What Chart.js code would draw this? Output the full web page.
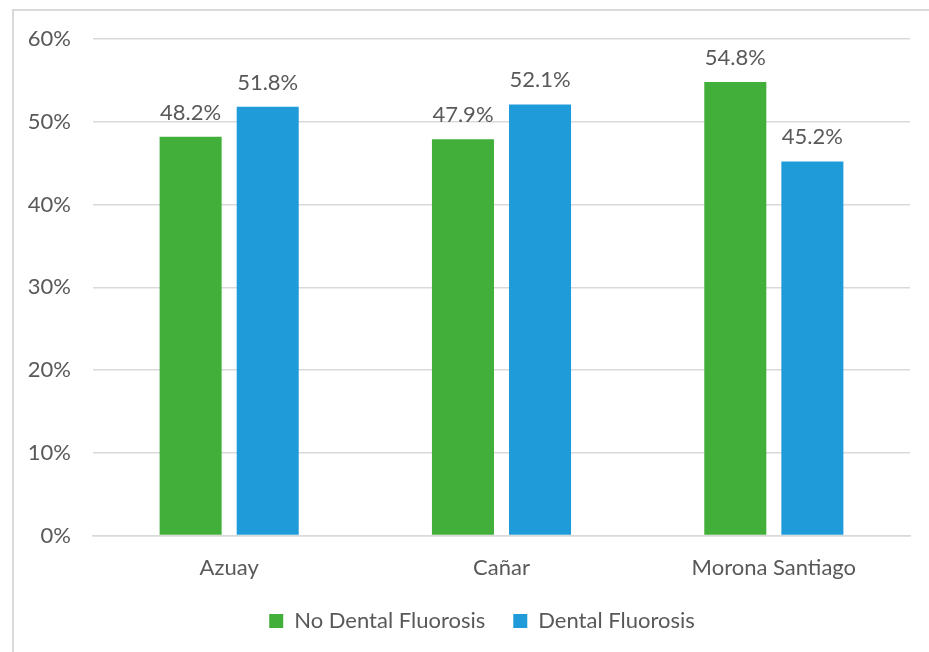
<!DOCTYPE html>
<html>
<head>
<meta charset="utf-8">
<script src="https://cdn.jsdelivr.net/npm/chart.js@4"></script>
<style>
  html, body { margin: 0; padding: 0; background: #fff; overflow: hidden; }
  #frame {
    position: absolute; left: 12px; top: 9px; width: 1000px; height: 700px;
    border: 2px solid #d9d9d9; box-sizing: border-box;
  }
  #wrap { position: absolute; left: 0; top: 0; width: 929px; height: 652px; }
</style>
</head>
<body>
<div id="frame"></div>
<div id="wrap"><canvas id="chart"></canvas></div>
<script>
// Chart data
const regions = ['Azuay', 'Cañar', 'Morona Santiago'];
const noFluorosis = [48.2, 47.9, 54.8];
const fluorosis = [51.8, 52.1, 45.2];
const seriesNames = ['No Dental Fluorosis', 'Dental Fluorosis'];

const greenColor = '#43AF3B';
const blueColor = '#1E9BD8';
const textColor = '#595959';
const gridColor = '#d9d9d9';
const fontSize = 22;

// Draw value labels above each bar
const valueLabels = {
    id: 'valueLabels',
    afterDatasetsDraw(chart) {
        const ctx = chart.ctx;
        ctx.save();
        ctx.font = fontSize + 'px Lato';
        ctx.fillStyle = textColor;
        ctx.textAlign = 'center';
        ctx.textBaseline = 'alphabetic';
        chart.data.datasets.forEach((ds, i) => {
            chart.getDatasetMeta(i).data.forEach((bar, j) => {
                ctx.fillText(ds.data[j].toFixed(1) + '%', bar.x, bar.y - 17);
            });
        });
        ctx.restore();
    }
};

// Legend is centred on the whole frame, not the plot; nudge it right
const legendShift = {
    id: 'legendShift',
    afterLayout(chart) {
        chart.legend.left += 27;
        chart.legend.right += 27;
    }
};

new Chart(document.getElementById('chart').getContext('2d'), {
    type: 'bar',
    data: {
        labels: regions,
        datasets: [
            {
                label: seriesNames[0],
                data: noFluorosis,
                backgroundColor: greenColor,
                categoryPercentage: 0.566,
                barPercentage: 0.805
            },
            {
                label: seriesNames[1],
                data: fluorosis,
                backgroundColor: blueColor,
                categoryPercentage: 0.566,
                barPercentage: 0.805
            }
        ]
    },
    options: {
        responsive: true,
        maintainAspectRatio: false,
        animation: false,
        layout: {
            padding: { top: 39, right: 19, bottom: 10, left: 0 }
        },
        scales: {
            x: {
                afterFit: (scale) => { scale.height -= 10; },
                grid: { display: false },
                border: { color: gridColor, width: 1.5 },
                ticks: {
                    color: textColor,
                    font: { family: 'Lato', size: fontSize },
                    padding: 11
                }
            },
            y: {
                min: 0,
                max: 60,
                afterFit: (scale) => { scale.width = 93; },
                grid: { color: gridColor, lineWidth: 1.5, drawTicks: false },
                border: { display: false },
                ticks: {
                    stepSize: 10,
                    color: textColor,
                    font: { family: 'Lato', size: fontSize },
                    padding: 22,
                    callback: (v) => v + '%'
                }
            }
        },
        plugins: {
            legend: {
                position: 'bottom',
                labels: {
                    color: textColor,
                    font: { family: 'Lato', size: fontSize },
                    boxWidth: 14,
                    boxHeight: 14,
                    padding: 28
                }
            },
            tooltip: { enabled: false }
        }
    },
    plugins: [valueLabels, legendShift]
});
</script>
</body>
</html>
